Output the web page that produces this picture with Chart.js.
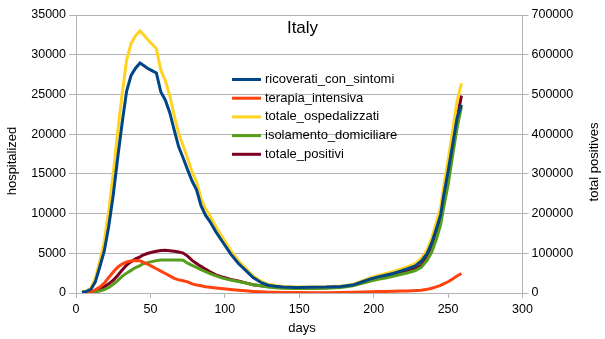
<!DOCTYPE html>
<html>
<head>
<meta charset="utf-8">
<script src="https://cdn.jsdelivr.net/npm/chart.js@4"></script>
<style>
  html, body { margin: 0; padding: 0; background: #fff; }
</style>
</head>
<body>
<canvas id="chart" width="605" height="339"></canvas>
<script>
// days since start
const days = [4, 7, 10, 13, 16, 19, 22, 25, 28, 31, 34, 37, 40, 43, 45, 48, 51, 54, 57, 60,
  63, 66, 69, 72, 75, 78, 81, 84, 87, 90, 94, 99, 104, 109, 114, 119, 124, 129, 134, 139,
  148, 158, 168, 178, 186, 193, 198, 203, 208, 213, 218, 223, 228, 232, 236, 239, 242, 245, 247, 250,
  253, 256, 259];

// left axis (hospitalized)
const ricoverati = [100, 200, 450, 1400, 3300, 5300, 8400, 12300, 17000, 21400, 25400, 27400, 28300, 28950, 28700, 28300, 28000, 27700, 25300, 24300,
  22700, 20500, 18400, 17000, 15500, 14100, 13000, 11000, 9800, 9000, 7700, 6300, 4900, 3750, 2850, 1950, 1350, 980, 850, 760,
  700, 710, 740, 820, 1000, 1450, 1780, 2030, 2230, 2450, 2750, 3050, 3400, 4000, 5000, 6300, 8000, 9830, 12200, 15300,
  18600, 22000, 23700];
const terapia = [30, 60, 150, 400, 750, 1250, 1950, 2650, 3250, 3650, 3900, 4020, 4080, 4050, 3900, 3650, 3350, 3050, 2750, 2450,
  2150, 1850, 1650, 1550, 1400, 1150, 1000, 900, 800, 730, 640, 540, 440, 350, 270, 200, 150, 110, 85, 70,
  50, 45, 45, 60, 80, 120, 150, 180, 200, 220, 240, 260, 300, 360, 460, 600, 780, 960, 1140, 1420,
  1760, 2150, 2450];
const ospedalizzati = [130, 260, 600, 1800, 4050, 6550, 10350, 14950, 20250, 25050, 29300, 31420, 32380, 33000, 32600, 31950, 31350, 30750, 28050, 26750,
  24850, 22350, 20050, 18550, 16900, 15250, 14000, 11900, 10600, 9730, 8340, 6840, 5340, 4100, 3120, 2150, 1500, 1090, 935, 830,
  750, 755, 785, 880, 1080, 1570, 1930, 2210, 2430, 2670, 2990, 3310, 3700, 4360, 5460, 6900, 8780, 10790, 13340, 16720,
  20360, 24150, 26400];

// right axis (total positives)
const isolamento = [100, 400, 1000, 2700, 5000, 8500, 14000, 22000, 31000, 42000, 50000, 57000, 64000, 69000, 73500, 76500, 79000, 81500, 83000, 83200,
  83300, 83300, 83200, 82500, 75000, 69500, 64500, 59000, 53500, 49000, 43000, 37000, 32500, 29000, 25000, 20500, 18000, 15000, 13000, 12000,
  11500, 11300, 12000, 14000, 18000, 25000, 30200, 34500, 38000, 42000, 46500, 51000, 56500, 64500, 83000, 103000, 134000, 172000, 215000, 272000,
  345000, 415000, 470000];
const positivi = [300, 1000, 2500, 5500, 10000, 15500, 23000, 32000, 44000, 58000, 70000, 79000, 86000, 91000, 95500, 99500, 102500, 105000, 107000, 107500,
  106500, 105000, 103000, 100500, 93000, 82000, 74500, 67000, 60000, 53500, 45500, 39500, 34000, 30000, 25500, 21000, 18500, 16300, 14800, 13800,
  13000, 12600, 13300, 15500, 20000, 27500, 33000, 37000, 40500, 45000, 50000, 54500, 61000, 70000, 90000, 112000, 145000, 185000, 230000, 290000,
  365000, 440000, 497000];

const FONT = '"Liberation Sans", Arial, sans-serif';
const GRID = '#b3b3b3';

function pts(values) {
  return days.map((d, i) => ({ x: d, y: values[i] }));
}

function series(label, values, color, axis) {
  return {
    label: label,
    data: pts(values),
    borderColor: color,
    backgroundColor: color,
    borderWidth: 3,
    pointRadius: 0,
    tension: 0,
    showLine: true,
    yAxisID: axis
  };
}

// title, legend and axis titles sit inside / around the plot like the original
const decorations = {
  id: 'decorations',
  afterDraw(chart) {
    const ctx = chart.ctx;
    ctx.save();
    ctx.fillStyle = '#000';

    ctx.font = '17px ' + FONT;
    ctx.textAlign = 'center';
    ctx.textBaseline = 'alphabetic';
    ctx.fillText('Italy', 302.5, 33);

    ctx.font = '13px ' + FONT;
    ctx.textAlign = 'left';
    ctx.textBaseline = 'middle';
    chart.data.datasets.forEach((ds, i) => {
      const y = 79.5 + i * 18.7;
      ctx.strokeStyle = ds.borderColor;
      ctx.lineWidth = 3;
      ctx.beginPath();
      ctx.moveTo(232, y);
      ctx.lineTo(261, y);
      ctx.stroke();
      ctx.fillText(ds.label, 265, y);
    });

    ctx.textAlign = 'center';
    ctx.fillText('days', 302, 328);

    ctx.save();
    ctx.translate(12, 161);
    ctx.rotate(-Math.PI / 2);
    ctx.fillText('hospitalized', 0, 0);
    ctx.restore();

    ctx.save();
    ctx.translate(594, 162);
    ctx.rotate(-Math.PI / 2);
    ctx.fillText('total positives', 0, 0);
    ctx.restore();

    ctx.restore();
  }
};

const tickFont = { family: FONT, size: 12.5 };
const plain = (v) => String(v); // no thousands separators

new Chart(document.getElementById('chart').getContext('2d'), {
  type: 'scatter',
  data: {
    datasets: [
      series('ricoverati_con_sintomi', ricoverati, '#004586', 'y'),
      series('terapia_intensiva', terapia, '#ff420e', 'y'),
      series('totale_ospedalizzati', ospedalizzati, '#ffd320', 'y'),
      series('isolamento_domiciliare', isolamento, '#579d1c', 'y1'),
      series('totale_positivi', positivi, '#7e0021', 'y1')
    ]
  },
  options: {
    responsive: false,
    animation: false,
    layout: { padding: { top: 15, left: 0, right: 0, bottom: 0 } },
    plugins: {
      legend: { display: false },
      title: { display: false },
      tooltip: { enabled: false }
    },
    scales: {
      x: {
        type: 'linear',
        min: 0,
        max: 300,
        ticks: { stepSize: 50, color: '#000', font: tickFont, padding: 4, callback: plain },
        grid: { drawOnChartArea: false, drawTicks: true, tickLength: 5, color: GRID },
        border: { color: GRID },
        afterFit: (s) => { s.height = 46; }
      },
      y: {
        position: 'left',
        min: 0,
        max: 35000,
        ticks: { stepSize: 5000, color: '#000', font: tickFont, padding: 3, callback: plain },
        grid: { color: GRID, tickLength: 7 },
        border: { color: GRID },
        afterFit: (s) => { s.width = 76; }
      },
      y1: {
        position: 'right',
        min: 0,
        max: 700000,
        ticks: { stepSize: 100000, color: '#000', font: tickFont, padding: 3, callback: plain },
        grid: { drawOnChartArea: false, color: GRID, tickLength: 6 },
        border: { color: GRID },
        afterFit: (s) => { s.width = 82.5; }
      }
    }
  },
  plugins: [decorations]
});
</script>
</body>
</html>
